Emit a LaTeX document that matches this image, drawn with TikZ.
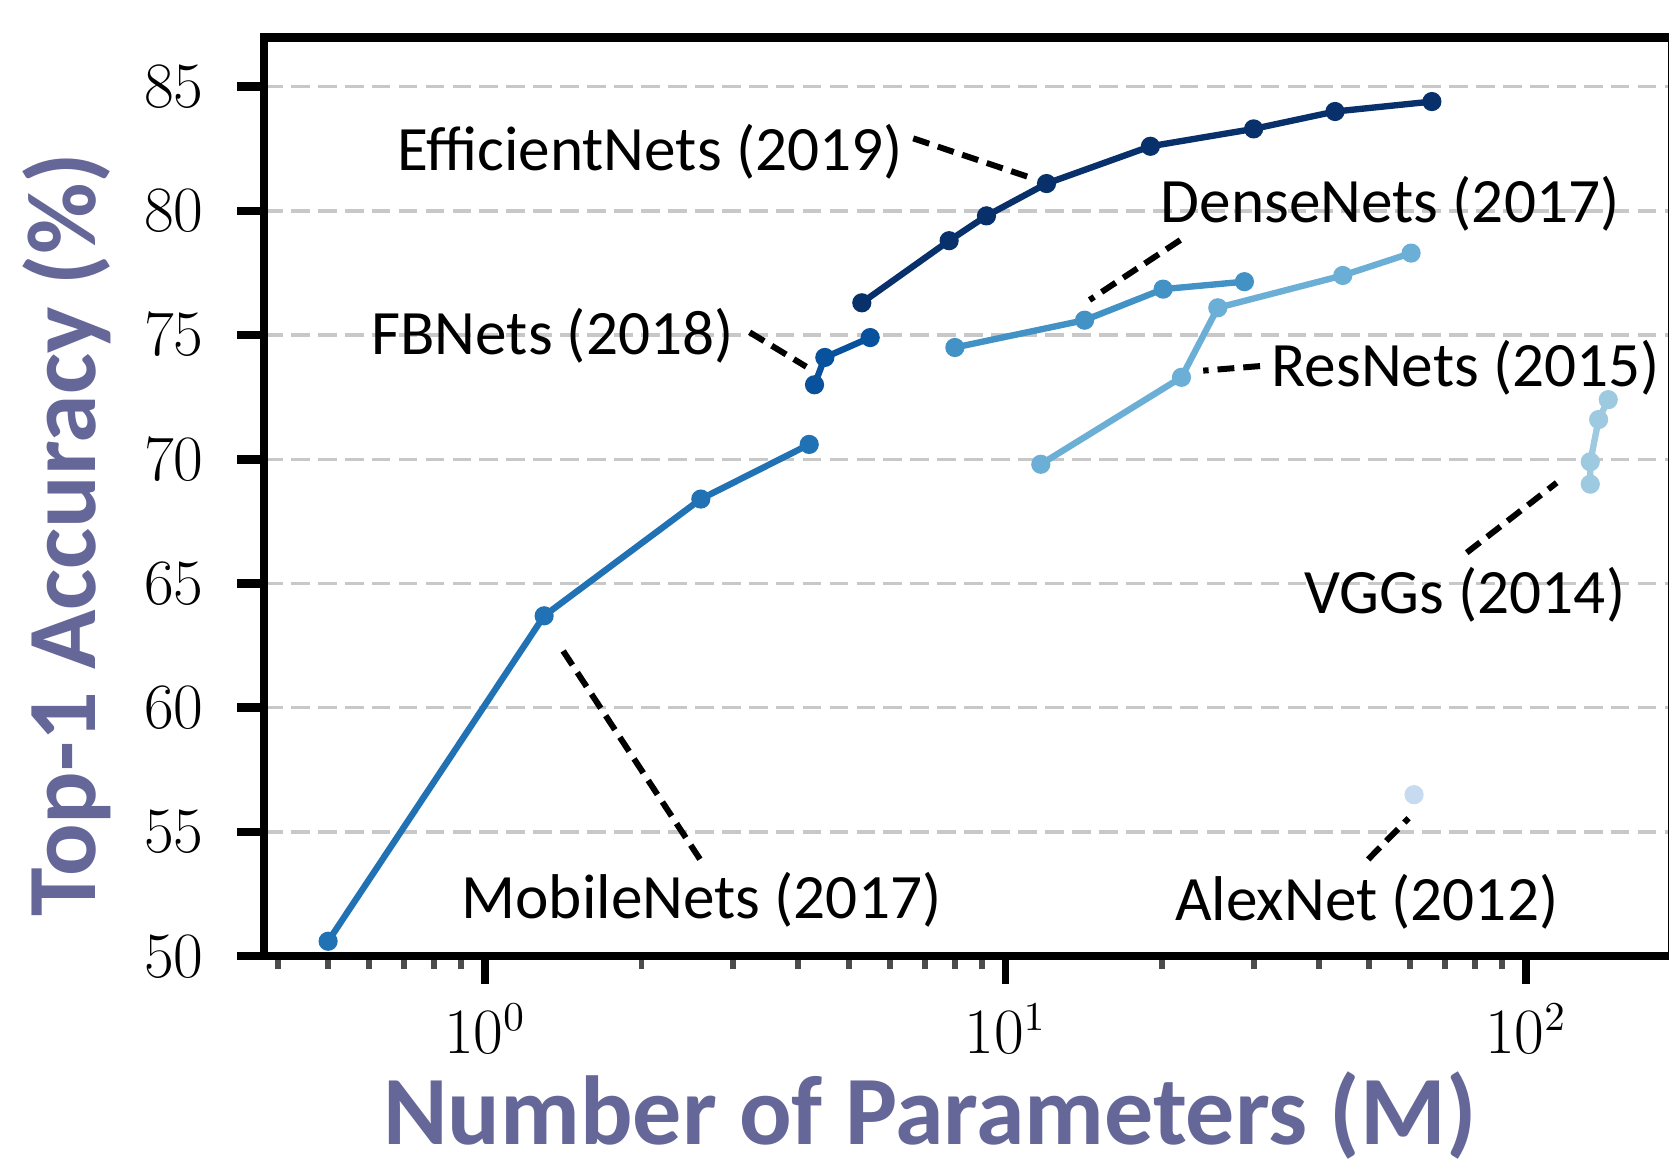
\documentclass[tikz,border=0pt]{standalone}
\usepackage{fontspec}
\newfontfamily\calfont{Carlito}
\usepackage{tikz}
\definecolor{neff}{HTML}{08306B}
\definecolor{nfb}{HTML}{08519C}
\definecolor{nmobile}{HTML}{2171B5}
\definecolor{ndense}{HTML}{4292C6}
\definecolor{nres}{HTML}{6BAED6}
\definecolor{nvgg}{HTML}{9ECAE1}
\definecolor{nalex}{HTML}{C6DBEF}
\definecolor{ngrid}{HTML}{C8C8C8}
\definecolor{ntitle}{HTML}{666799}

\begin{document}
\begin{tikzpicture}[x=4.89cm, y=0.2334cm,
  axisline/.style={line width=2.3pt},
  minortick/.style={black!70, line width=1.6pt},
  gridline/.style={ngrid, line width=0.9pt, dash pattern=on 5pt off 2.2pt},
  series/.style={line width=1.7pt, mark=*, mark size=1.7pt},
  leader/.style={line width=1.6pt, dash pattern=on 4.5pt off 2.4pt},
  netlabel/.style={font=\calfont\fontsize{16.9}{20}\selectfont, anchor=base, inner sep=0pt},
  ticklabel/.style={font=\fontsize{16.2}{19}\selectfont, inner sep=0pt},
  axistitle/.style={font=\calfont\bfseries\fontsize{26.2}{30}\selectfont, text=ntitle, anchor=base, inner sep=0pt}]
 \useasboundingbox (-0.9315,41.83) rectangle (2.2751,88.49);
 \clip (-0.9315,41.83) rectangle (2.2751,88.49);
 \fill[white] (-0.9315,41.83) rectangle (2.2751,88.49);
 \foreach \v in {55,60,...,85} \draw[gridline] (-0.4243,\v) -- (2.2751,\v);
 \foreach \m in {0.4,0.5,0.6,0.7,0.8,0.9,2,3,4,5,6,7,8,9,20,30,40,50,60,70,80,90}
   \draw[minortick] ({log10(\m)},50) -- ++(0,-0.12cm);
 \foreach \e in {0,1,2} {
   \draw[line width=2pt] (\e,50) -- ++(0,-0.26cm);
   \node[ticklabel, anchor=base] (xtick\e) at (\e,46.07) {$10^{\e}$};
 }
 \foreach \v in {50,55,...,85} {
   \draw[axisline] (-0.4243,\v) -- ++(-0.25cm,0);
   \node[ticklabel, anchor=east] (ytick\v) at (-0.5389,\v) {$\v$};
 }
 \draw[axisline] (-0.4243,50) rectangle (2.2812,86.97);
 \draw[series, nalex] plot coordinates {({log10(61)},56.5)};
 \draw[series, nvgg] plot coordinates {({log10(133)},69.0) ({log10(133)},69.9) ({log10(138)},71.6) ({log10(144)},72.4)};
 \draw[series, nres] plot coordinates {({log10(11.7)},69.8) ({log10(21.8)},73.3) ({log10(25.6)},76.1) ({log10(44.5)},77.4) ({log10(60.2)},78.3)};
 \draw[series, ndense] plot coordinates {({log10(8.0)},74.5) ({log10(14.2)},75.6) ({log10(20.1)},76.85) ({log10(28.8)},77.15)};
 \draw[series, nmobile] plot coordinates {({log10(0.5)},50.6) ({log10(1.3)},63.7) ({log10(2.6)},68.4) ({log10(4.2)},70.6)};
 \draw[series, nfb] plot coordinates {({log10(4.3)},73.0) ({log10(4.5)},74.1) ({log10(5.5)},74.9)};
 \draw[series, neff] plot coordinates {({log10(5.3)},76.3) ({log10(7.8)},78.8) ({log10(9.2)},79.8) ({log10(12)},81.1) ({log10(19)},82.6) ({log10(30)},83.3) ({log10(43)},84.0) ({log10(66)},84.4)};
 \node[netlabel] (effnet) at (0.3174,81.645) {EfficientNets (2019)};
 \node[netlabel] (fbnet) at (0.1299,74.199) {FBNets (2018)};
 \node[netlabel] (densenet) at (1.7393,79.524) {DenseNets (2017)};
 \node[netlabel] (resnet) at (1.8845,72.922) {ResNets (2015)};
 \node[netlabel] (vggnet) at (1.8832,63.80) {VGGs (2014)};
 \node[netlabel] (mobilenet) at (0.4162,51.534) {MobileNets (2017)};
 \node[netlabel] (alexnet) at (1.6943,51.444) {AlexNet (2012)};
 \coordinate (effa) at (0.8231,82.918);
 \coordinate (effb) at (1.0466,81.35);
 \coordinate (fba) at (0.5088,75.112);
 \coordinate (fbb) at (0.6176,73.727);
 \coordinate (densea) at (1.3362,78.826);
 \coordinate (denseb) at (1.1618,76.414);
 \coordinate (resa) at (1.4894,73.753);
 \coordinate (resb) at (1.3802,73.569);
 \coordinate (vgga) at (1.8865,66.242);
 \coordinate (vggb) at (2.0593,69.057);
 \coordinate (mobilea) at (0.4133,53.903);
 \coordinate (mobileb) at (0.1466,62.408);
 \coordinate (alexa) at (1.6971,53.895);
 \coordinate (alexb) at (1.7748,55.553);
 \draw[leader] (effa) -- (effb);
 \draw[leader] (fba) -- (fbb);
 \draw[leader] (densea) -- (denseb);
 \draw[leader] (resa) -- (resb);
 \draw[leader] (vgga) -- (vggb);
 \draw[leader] (mobilea) -- (mobileb);
 \draw[leader] (alexa) -- (alexb);
 \node[axistitle, rotate=90] (ytitle) at (-0.7489,66.962) {Top-1 Accuracy (\%)};
 \node[axistitle] (xtitle) at (0.8556,42.40) {Number of Parameters (M)};
\end{tikzpicture}
\end{document}
